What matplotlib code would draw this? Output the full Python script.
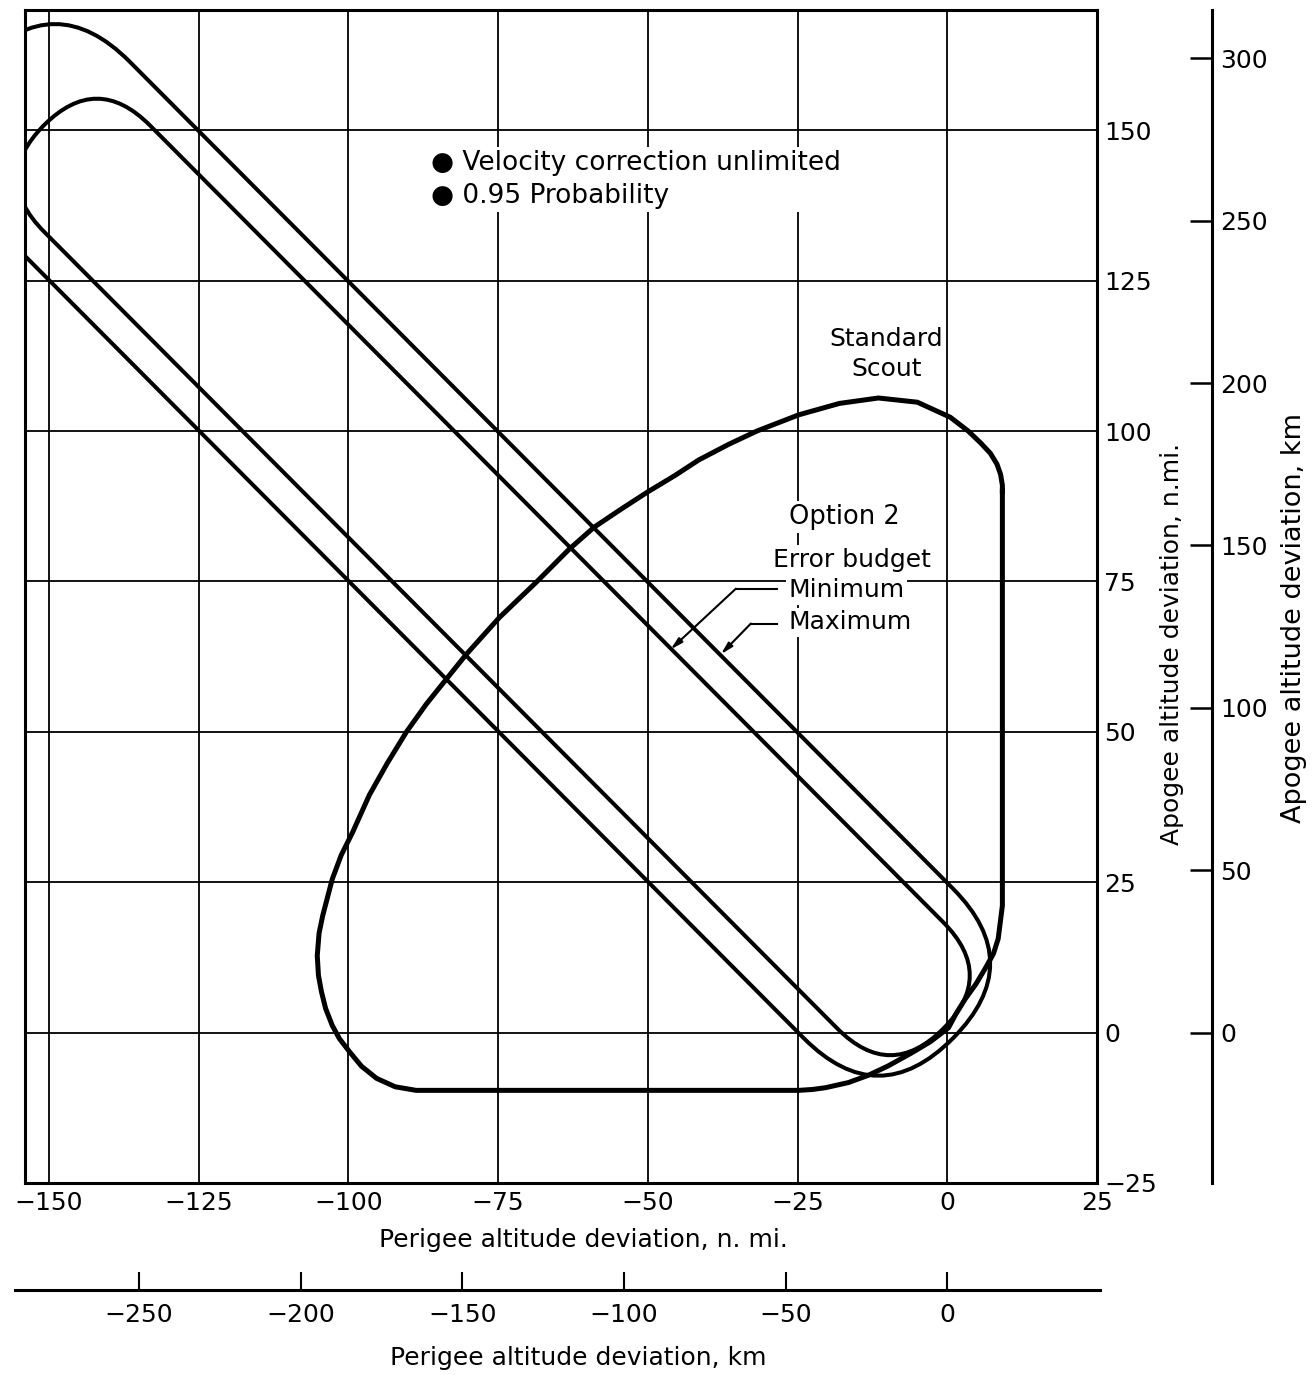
import numpy as np
import matplotlib
matplotlib.use("Agg")
import matplotlib.pyplot as plt
from matplotlib.patches import FancyBboxPatch
from matplotlib.transforms import Affine2D

plt.rcParams['font.family'] = ['DejaVu Sans']
plt.rcParams['axes.unicode_minus'] = True

NMI_TO_KM = 1.852

# Standard Scout dispersion boundary (n. mi.)
scout_x = [9.2, 9.2, 8.5, 7.7, 6.3, 4.8, 3.0, 1.5, 0.2, -2.8, -6.0, -9.8, -13.2,
           -16.5, -20.3, -22.5, -24.8, -88.7, -92.2, -95.3, -97.8, -99.8, -101.5,
           -102.7, -103.8, -104.5, -105.0, -105.2, -104.9, -104.3, -102.7, -101.2,
           -99.3, -96.5, -93.5, -90.3, -87.0, -83.7, -80.3, -74.8, -68.5, -63.2,
           -59.0, -54.5, -50.0, -45.5, -41.5, -36.5, -31.8, -24.8, -18.0, -11.5,
           -5.0, 0.5, 3.5, 5.6, 7.2, 8.3, 8.9, 9.2, 9.2]
scout_y = [90.0, 21.1, 15.6, 13.1, 10.6, 8.1, 5.6, 3.2, 0.8, -1.5, -3.4, -5.5, -7.1,
           -8.3, -9.15, -9.45, -9.6, -9.6, -9.0, -7.6, -5.6, -3.2, -1.0,
           1.2, 4.0, 6.8, 9.5, 12.8, 16.5, 19.4, 25.5, 29.5,
           33.3, 39.5, 44.8, 50.0, 54.6, 58.7, 62.9, 69.0, 75.0, 80.3,
           84.0, 87.0, 89.9, 92.6, 95.2, 97.8, 100.0, 102.7, 104.6, 105.5,
           104.8, 102.3, 100.0, 98.0, 96.3, 94.5, 92.8, 91.0, 90.0]

# Option 2 error budget: capsules along the line y = -x
# (x of the two end-cap centres, half width), n. mi.
min_ends = [-142.0, -9.5]
min_halfwidth = 12.5
max_ends = [-149.0, -11.5]
max_halfwidth = 17.6

x_ticks = [-150, -125, -100, -75, -50, -25, 0, 25]
y_ticks = [-25, 0, 25, 50, 75, 100, 125, 150]
km_y_ticks = [0, 50, 100, 150, 200, 250, 300]
km_x_ticks = [-250, -200, -150, -100, -50, 0]

W, H = 1314, 1375
fig = plt.figure(figsize=(W / 100, H / 100), dpi=100)

# main axes (n. mi.)
L, R, T, B = 25, 1097, 10, 1183
ax = fig.add_axes([L / W, (H - B) / H, (R - L) / W, (B - T) / H])
ax.set_xlim(-154, 25)
ax.set_ylim(-25, 170)
ax.set_xticks(x_ticks)
ax.set_yticks(y_ticks)
ax.grid(True, color='black', lw=1.3)
ax.set_axisbelow(True)
for s in ax.spines.values():
    s.set_linewidth(2.2)

# right axis in km (twinx moves the first axis ticks back to the left)
ax2 = ax.twinx()
ax.yaxis.tick_right()
ax.yaxis.set_label_position('right')
ax.tick_params(axis='both', length=0, labelsize=18, pad=6)
ax.tick_params(axis='y', pad=5)

ax.plot(scout_x, scout_y, color='black', lw=3.6, solid_joinstyle='round', zorder=4)


def capsule(ends, r, lw):
    u0 = ends[0] * np.sqrt(2)
    u1 = ends[1] * np.sqrt(2)
    box = FancyBboxPatch((u0 - r, -r), (u1 - u0) + 2 * r, 2 * r,
                         boxstyle=f"round,pad=0,rounding_size={r}",
                         fill=False, ec='black', lw=lw, zorder=4,
                         transform=Affine2D().rotate_deg(-45) + ax.transData)
    ax.add_patch(box)


capsule(min_ends, min_halfwidth, 2.9)
capsule(max_ends, max_halfwidth, 2.9)

ax.set_xlabel("Perigee altitude deviation, n. mi.", fontsize=18)
ax.xaxis.set_label_coords((583 - L) / (R - L), (B - 1228) / (B - T))
ax.set_ylabel("Apogee altitude deviation, n.mi.", fontsize=18)
ax.yaxis.set_label_coords((1160 - L) / (R - L), (B - 644) / (B - T))

wb = dict(facecolor='white', edgecolor='none', pad=2)
ax.text(-86.2, 141.8, "\u25cf Velocity correction unlimited\n\u25cf 0.95 Probability",
        fontsize=19, ha='left', va='center', linespacing=1.33, bbox=wb, zorder=5)
ax.text(-10.2, 112.8, "Standard\nScout", fontsize=18, ha='center', va='center',
        linespacing=1.35, zorder=5)
ax.text(-17.2, 85.7, "Option 2", fontsize=18.5, ha='center', va='center', bbox=wb, zorder=5)
ax.text(-16.0, 78.6, "Error budget", fontsize=18, ha='center', va='center', bbox=wb, zorder=5)
ax.text(-26.5, 73.6, "Minimum", fontsize=18, ha='left', va='center', bbox=wb, zorder=5)
ax.text(-26.5, 68.2, "Maximum", fontsize=18, ha='left', va='center', bbox=wb, zorder=5)

# leaders
arr = dict(arrowstyle='-|>,head_length=0.7,head_width=0.18', color='black', lw=1.5,
           shrinkA=0, shrinkB=0)
ax.plot([-28.5, -35.3], [73.8, 73.8], color='black', lw=1.5, zorder=5)
ax.annotate("", xy=(-46.2, 63.7), xytext=(-35.3, 73.8), arrowprops=arr, zorder=5)
ax.plot([-28.5, -32.8], [68.0, 68.0], color='black', lw=1.5, zorder=5)
ax.annotate("", xy=(-37.8, 62.9), xytext=(-32.8, 68.0), arrowprops=arr, zorder=5)

ax2.set_ylim(ax.get_ylim()[0] * NMI_TO_KM, ax.get_ylim()[1] * NMI_TO_KM)
ax2.spines['right'].set_position(('axes', (1212 - L) / (R - L)))
for k in ['left', 'top', 'bottom']:
    ax2.spines[k].set_visible(False)
ax2.spines['right'].set_linewidth(2.2)
ax2.set_yticks(km_y_ticks)
ax2.tick_params(axis='y', direction='in', length=16, width=1.8, labelsize=18, pad=6)
ax2.set_ylabel("Apogee altitude deviation, km", fontsize=19.5)
ax2.yaxis.set_label_coords((1281 - L) / (R - L), (B - 618) / (B - T))

# bottom axis in km
KL, KR, KB, KT = 15, 1100, 1290, 1230
px_per_nmi = (R - L) / (ax.get_xlim()[1] - ax.get_xlim()[0])
k_left = (ax.get_xlim()[0] - (L - KL) / px_per_nmi) * NMI_TO_KM
k_right = (ax.get_xlim()[1] + (KR - R) / px_per_nmi) * NMI_TO_KM
ax3 = fig.add_axes([KL / W, (H - KB) / H, (KR - KL) / W, (KB - KT) / H])
ax3.patch.set_visible(False)
for k in ['left', 'top', 'right']:
    ax3.spines[k].set_visible(False)
ax3.spines['bottom'].set_linewidth(2.2)
ax3.set_xlim(k_left, k_right)
ax3.set_xticks(km_x_ticks)
ax3.set_yticks([])
ax3.tick_params(axis='x', direction='in', length=13, width=1.5, labelsize=18, pad=9)
ax3.set_xlabel("Perigee altitude deviation, km", fontsize=18)
ax3.xaxis.set_label_coords((578 - KL) / (KR - KL), (KB - 1346) / (KB - KT))

fig.savefig("out.png", dpi=100)
